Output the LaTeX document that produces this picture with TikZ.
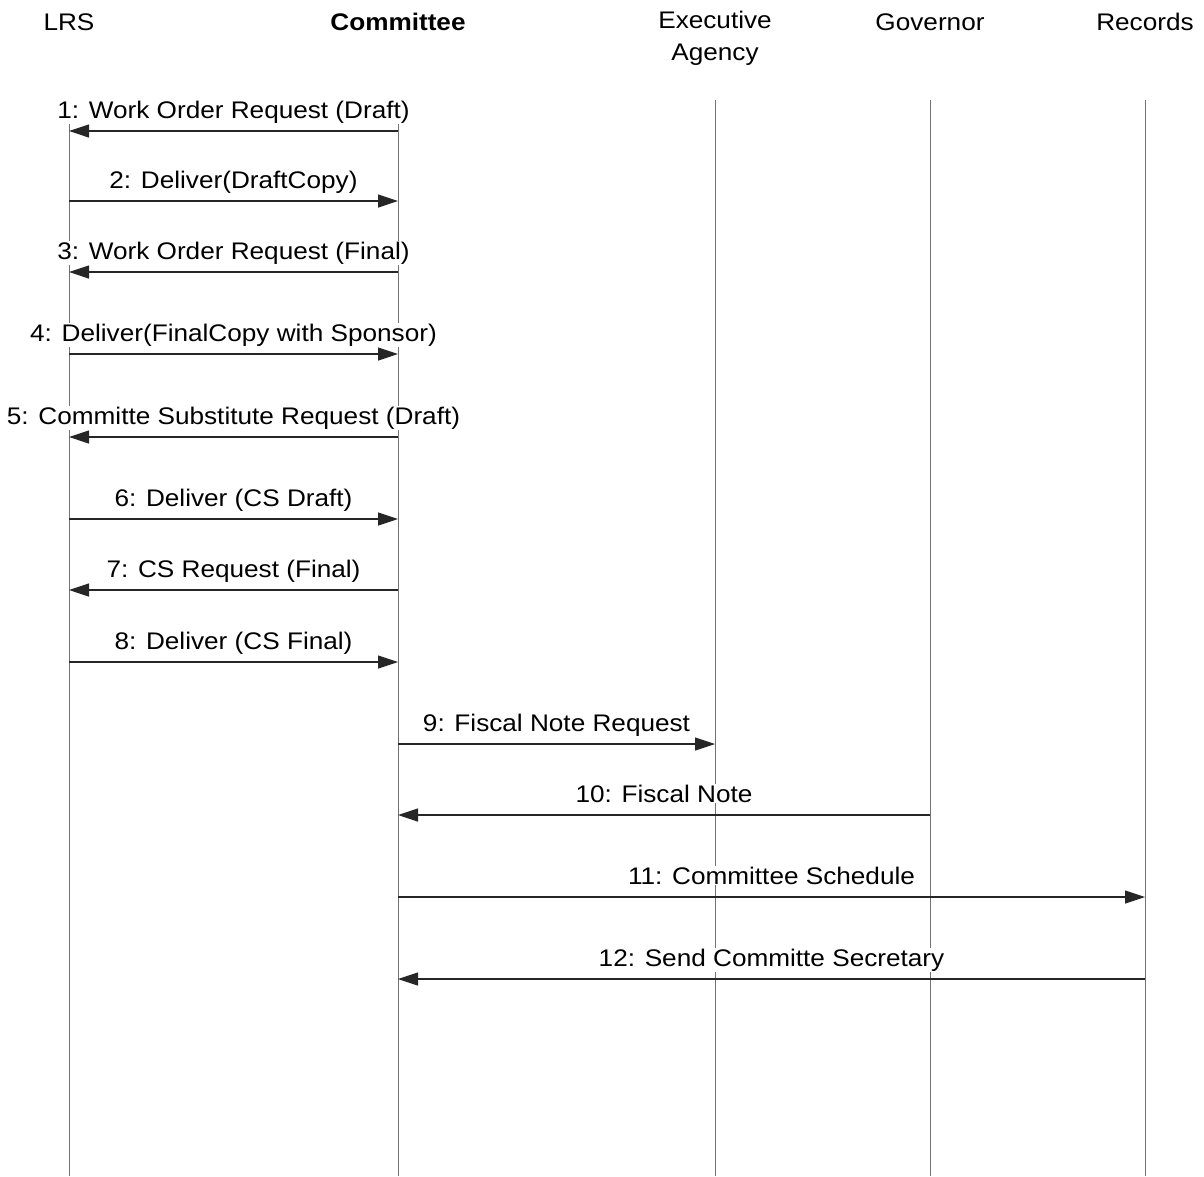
\documentclass[tikz,border=0pt]{standalone}
\usepackage{fontspec}
\setmainfont{Liberation Sans}[FakeStretch=1.09]
\usetikzlibrary{arrows.meta}
\begin{document}
\begin{tikzpicture}[x=1pt,y=-1pt,
  every node/.style={font=\fontsize{24}{32}\selectfont, inner sep=1pt},
  head/.style={align=center},
  life/.style={draw=black!55, line width=0.8pt},
  msg/.style={draw=black!85, line width=1.2pt, -{Triangle[length=20pt,width=13pt]}},
  lbl/.style={midway, anchor=base, yshift=13pt, fill=white}]
\useasboundingbox (0,0) rectangle (1204,1176);
% heads
\node[head] (hL) at (69,22) {LRS};
\node[head] (hC) at (398,22) {\textbf{Committee}};
\node[head] (hE) at (715,38) {Executive\\Agency};
\node[head] (hG) at (930,22) {Governor};
\node[head] (hR) at (1145,22) {Records};
% lifelines
\foreach \n/\x in {L/69,C/398,E/715,G/930,R/1145}{
  \coordinate (\n top) at (\x,100);
  \coordinate (\n bot) at (\x,1176);
  \draw[life] (\n top) -- (\n bot);
}
% message anchor points
\foreach \i/\y in {1/131,2/201,3/272,4/354,5/437,6/519,7/590,8/662,9/744,10/815,11/897,12/979}{
  \coordinate (L\i) at (69,\y);
  \coordinate (C\i) at (398,\y);
  \coordinate (E\i) at (715,\y);
  \coordinate (G\i) at (930,\y);
  \coordinate (R\i) at (1145,\y);
}
\draw[msg] (C1) -- node[lbl] {1: Work Order Request (Draft)} (L1);
\draw[msg] (L2) -- node[lbl] {2: Deliver(DraftCopy)} (C2);
\draw[msg] (C3) -- node[lbl] {3: Work Order Request (Final)} (L3);
\draw[msg] (L4) -- node[lbl] {4: Deliver(FinalCopy with Sponsor)} (C4);
\draw[msg] (C5) -- node[lbl] {5: Committe Substitute Request (Draft)} (L5);
\draw[msg] (L6) -- node[lbl] {6: Deliver (CS Draft)} (C6);
\draw[msg] (C7) -- node[lbl] {7: CS Request (Final)} (L7);
\draw[msg] (L8) -- node[lbl] {8: Deliver (CS Final)} (C8);
\draw[msg] (C9) -- node[lbl] {9: Fiscal Note Request} (E9);
\draw[msg] (G10) -- node[lbl] {10: Fiscal Note} (C10);
\draw[msg] (C11) -- node[lbl] {11: Committee Schedule} (R11);
\draw[msg] (R12) -- node[lbl] {12: Send Committe Secretary} (C12);
\end{tikzpicture}
\end{document}
